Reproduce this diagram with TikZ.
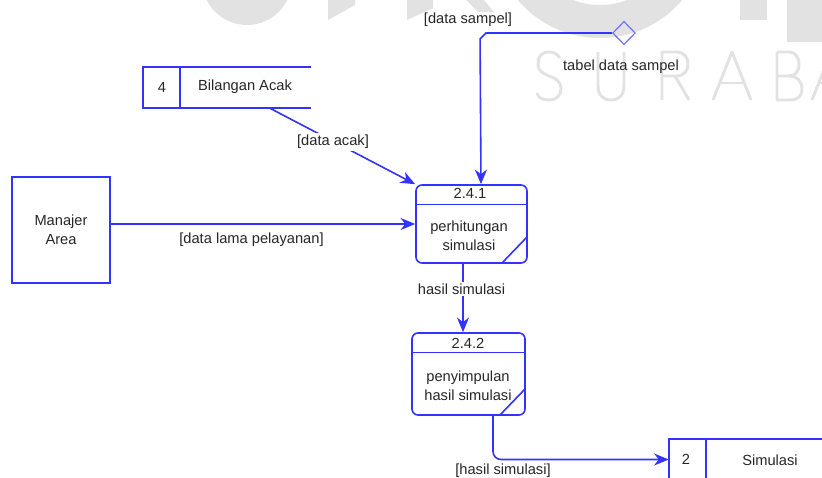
\documentclass[tikz,border=0pt]{standalone}
\usepackage{fontspec}
\setmainfont{Liberation Sans}
\usetikzlibrary{arrows.meta,calc,shapes.geometric}
\definecolor{dfd}{RGB}{51,51,255}
\definecolor{ink}{RGB}{38,38,38}
\definecolor{wm}{RGB}{226,226,226}
\begin{document}
\begin{tikzpicture}[x=0.75pt,y=-0.75pt,
  every node/.style={font=\fontsize{11}{14.5}\selectfont, text=ink, inner sep=1pt},
  flow/.style={draw=dfd, line width=1.2pt, -{Stealth[length=11pt,width=9pt,inset=3.5pt]}},
  store/.style={draw=dfd, line width=1.2pt},
  lbl/.style={inner sep=1.5pt},
  entity/.style={draw=dfd, line width=1.3pt, align=center, inner sep=0pt},
  procbox/.style={draw=dfd, line width=1.2pt, rounded corners=4.5pt, inner sep=0pt,
    path picture={
      \draw[dfd, line width=1.2pt]
        ([yshift=-14.6pt]path picture bounding box.north west) --
        ([yshift=-14.6pt]path picture bounding box.north east);
      \draw[dfd, line width=1.2pt]
        ([xshift=-18.75pt]path picture bounding box.south east) --
        ([yshift=19.5pt]path picture bounding box.south east);
    }},
  wmletter/.style={draw=wm, line width=2.2pt, line join=round}]

\useasboundingbox (0,0) rectangle (822,478);

% faint background lettering
\begin{scope}
  \clip (0,0) rectangle (822,478);
  \fill[wm] (247,-20) circle[radius=45];
  \fill[wm] (328,0) -- (328,20) -- (355,5) -- (355,0) -- cycle;
  \fill[wm] (407,0) -- (407,20) -- (433,8) -- (433,0) -- cycle;
  \fill[wm] (466,0) -- (478,12) -- (494,12) -- (484,0) -- cycle;
  \fill[wm, even odd rule] (600,-70) circle[radius=108] (600,-70) circle[radius=75];
  \fill[wm] (740,0) -- (740,20) -- (767,20) -- (767,0) -- cycle;
  \fill[wm] (787,0) -- (787,42) -- (822,42) -- (822,0) -- cycle;
  % S
  \begin{scope}[shift={(537,0)}]
    \draw[wmletter] (23,58) .. controls (20,53) and (15,52) .. (12,52)
      .. controls (4,52) and (1,57) .. (1,64)
      .. controls (1,72) and (8,74) .. (12,76)
      .. controls (18,78) and (24,81) .. (24,89)
      .. controls (24,96) and (19,100) .. (12,100)
      .. controls (6,100) and (1,98) .. (0,93);
  \end{scope}
  % U
  \begin{scope}[shift={(598,0)}]
    \draw[wmletter] (0,52) -- (0,86) .. controls (0,95) and (5,100) .. (13,100)
      .. controls (21,100) and (26,95) .. (26,86) -- (26,52);
  \end{scope}
  % R
  \begin{scope}[shift={(662,0)}]
    \draw[wmletter] (0,100) -- (0,52) -- (14,52) .. controls (22,52) and (26,57) .. (26,64)
      .. controls (26,71) and (22,76) .. (14,76) -- (0,76);
    \draw[wmletter] (13,76) -- (27,100);
  \end{scope}
  % A
  \begin{scope}[shift={(713,0)}]
    \draw[wmletter] (0,100) -- (19,52) -- (38,100);
    \draw[wmletter] (7,83) -- (31,83);
  \end{scope}
  % B
  \begin{scope}[shift={(777,0)}]
    \draw[wmletter] (0,52) -- (0,100) -- (13,100) .. controls (21,100) and (25,96) .. (25,89)
      .. controls (25,81) and (20,76) .. (12,76) -- (0,76);
    \draw[wmletter] (12,76) .. controls (18,76) and (22,72) .. (22,64)
      .. controls (22,57) and (18,52) .. (12,52) -- (0,52);
  \end{scope}
  % A
  \begin{scope}[shift={(812,0)}]
    \draw[wmletter] (0,100) -- (19,52) -- (38,100);
    \draw[wmletter] (7,83) -- (31,83);
  \end{scope}
\end{scope}

% external entity
\node[entity, minimum width=73.5pt, minimum height=79.5pt] (mgr) at (61,230) {Manajer\\Area};

% processes
\node[procbox, minimum width=83.25pt, minimum height=58.5pt] (p1) at (471.5,224) {};
\node (p1id) at (470,193.5) {2.4.1};
\node[align=center] (p1txt) at (469,235.5) {perhitungan\\simulasi};

\node[procbox, minimum width=84.75pt, minimum height=61.5pt] (p2) at (468.5,374) {};
\node (p2id) at (468,343) {2.4.2};
\node[align=center] (p2txt) at (468,385.5) {penyimpulan\\hasil simulasi};

% data stores
\node[minimum width=126pt, minimum height=30.75pt, inner sep=0pt] (ds4) at (227,87.5) {};
\draw[store] (ds4.north east) -- (ds4.north west) -- (ds4.south west) -- (ds4.south east);
\draw[store] ($(ds4.north west)+(37,0)$) -- ($(ds4.south west)+(37,0)$);
\node (ds4id) at (162,87) {4};
\node (ds4name) at (245,87) {Bilangan Acak};

\node[minimum width=114.75pt, minimum height=30.75pt, inner sep=0pt] (ds2) at (745.5,459.5) {};
\draw[store] (ds2.north east) -- (ds2.north west) -- (ds2.south west) -- (ds2.south east);
\draw[store] ($(ds2.north west)+(37,0)$) -- ($(ds2.south west)+(37,0)$);
\node (ds2id) at (686,459.5) {2};
\node (ds2name) at (770,460) {Simulasi};

% data table connector
\node[diamond, aspect=1, draw=dfd!70, line width=0.9pt, minimum width=17pt, minimum height=17.5pt, inner sep=0pt] (dia) at (624,33) {};

% flows
\draw[flow] (dia.west) -- ++(-126,0) -- ++(-6,6) -- ($(p1.north)+(9.5,0)$);
\draw[flow] ($(ds4.south)+(43,0)$) -- (p1.north west);
\draw[flow] (mgr.east |- p1.west) -- (p1.west);
\draw[flow] ($(p1.south)+(-8.5,0)$) -- ($(p2.north)+(-5.5,0)$);
\draw[flow, rounded corners=6pt] ($(p2.south)+(24.5,0)$) |- (ds2.west);

% flow labels
\node[lbl] (lsampel) at (468,20) {[data sampel]};
\node[lbl] (ltabel) at (621,67) {tabel data sampel};
\node[lbl, fill=white] (lacak) at (333,142) {[data acak]};
\node[lbl] (llama) at (251.5,240) {[data lama pelayanan]};
\node[lbl, fill=white] (lhasil) at (461.5,289) {hasil simulasi};
\node[lbl] (lhasilout) at (503,471) {[hasil simulasi]};
\end{tikzpicture}
\end{document}
